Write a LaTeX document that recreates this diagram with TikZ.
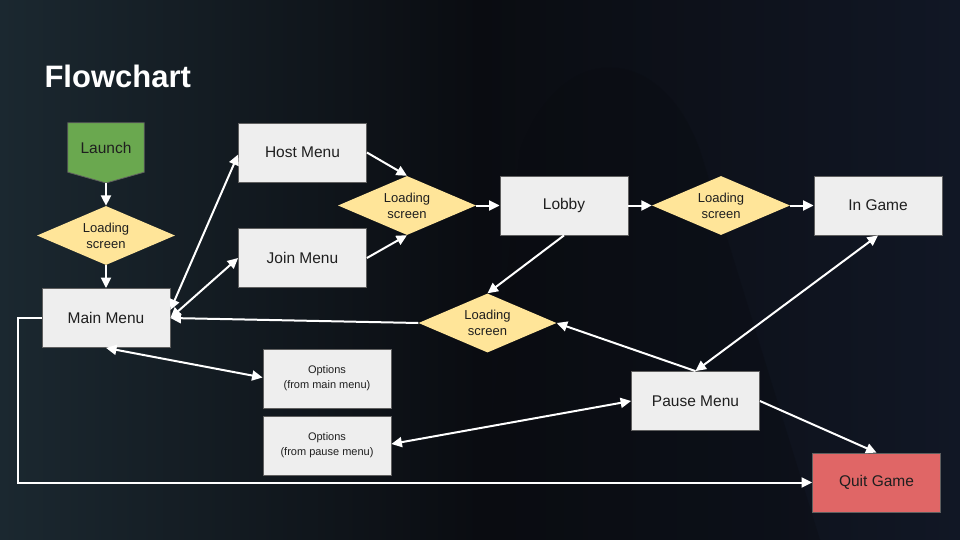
\documentclass[tikz,border=0pt]{standalone}
\usepackage{fontspec}
\setmainfont{Liberation Sans}
\usetikzlibrary{shapes.geometric,arrows.meta,calc}
\definecolor{bgL}{HTML}{1B2830}
\definecolor{bgM}{HTML}{0A0C11}
\definecolor{bgR}{HTML}{111725}
\definecolor{boxfill}{HTML}{EEEEEE}
\definecolor{boxline}{HTML}{5F5F5F}
\definecolor{diafill}{HTML}{FFE599}
\definecolor{launchfill}{HTML}{6AA84F}
\definecolor{quitfill}{HTML}{E06666}
\definecolor{txt}{HTML}{1F1F1F}
\tikzset{
  box/.style={rectangle, draw=boxline, line width=0.8pt, fill=boxfill, minimum width=128pt, minimum height=59pt, inner sep=0pt, align=center, text=txt, font=\fontsize{15.5}{18}\selectfont},
  optbox/.style={box, font=\fontsize{11}{15}\selectfont},
  dia/.style={diamond, fill=diafill, aspect=2.35, inner sep=0pt, minimum width=138pt, minimum height=59pt, align=center, text=txt, font=\fontsize{13}{16}\selectfont},
  tip/.style={Triangle[length=10.5pt,width=10pt]},
  arr/.style={draw=white, line width=2pt, -{Triangle[length=10.5pt,width=10pt]}},
  darr/.style={draw=white, line width=2pt, {Triangle[length=10.5pt,width=10pt]}-{Triangle[length=10.5pt,width=10pt]}},
}
\begin{document}
\begin{tikzpicture}[x=1pt,y=-1pt]
\useasboundingbox (0,0) rectangle (960,540);
\shade[left color=bgL, right color=bgR, middle color=bgM] (0,0) rectangle (960,540);
\fill[bgM, opacity=0.35] (480,540) -- (520,150) .. controls (560,40) and (660,40) .. (700,150) -- (820,540) -- cycle;

\node[anchor=west, text=white, font=\bfseries\fontsize{31}{36}\selectfont] (title) at (41,76) {Flowchart};

% Launch
\node[minimum width=76pt, minimum height=49pt, inner sep=0pt] (launch) at (106,147.5) {};
\coordinate (launchtip) at (106,183);
\filldraw[fill=launchfill, draw=boxline, line width=0.8pt] (launch.north west) -- (launch.north east) -- (launch.south east) -- (launchtip) -- (launch.south west) -- cycle;
\node[text=txt, font=\fontsize{15.5}{18}\selectfont] (launchtext) at (launch) {Launch};

\node[dia] (d1) at (106,235.5) {Loading\\screen};
\node[box] (main) at (106,318) {Main Menu};
\node[box] (host) at (302.5,152.5) {Host Menu};
\node[box] (join) at (302.5,258) {Join Menu};
\node[dia] (d2) at (407,205.5) {Loading\\screen};
\node[box] (lobby) at (564,205.5) {Lobby};
\node[dia] (d3) at (721,205.5) {Loading\\screen};
\node[box] (ingame) at (878,205.5) {In Game};
\node[dia] (d4) at (487.5,323) {Loading\\screen};
\node[optbox] (opt1) at (327,378.5) {Options\\(from main menu)};
\node[optbox] (opt2) at (327,445.5) {Options\\(from pause menu)};
\node[box] (pause) at (695.5,401) {Pause Menu};
\node[box, fill=quitfill] (quit) at (876.5,482.5) {Quit Game};

% connectors
\draw[arr] (launchtip) -- (d1.north);
\draw[arr] (d1.south) -- (main.north);
\draw[darr] ([yshift=8pt]main.east) -- ([yshift=-2pt]host.west);
\draw[darr] (main.east) -- (join.west);
\draw[arr] (host.east) -- (d2.north);
\draw[arr] (join.east) -- (d2.south);
\draw[arr] (d2.east) -- (lobby.west);
\draw[arr] (lobby.east) -- (d3.west);
\draw[arr] (d3.east) -- (ingame.west);
\draw[arr] (lobby.south) -- (d4.north);
\draw[arr] (d4.west) -- (main.east);
\draw[arr] (pause.north) -- (d4.east);
\draw[darr] (ingame.south) -- (pause.north);
\draw[darr] (main.south) -- ([yshift=1pt]opt1.west);
\draw[darr] (pause.west) -- ([yshift=1.5pt]opt2.east);
\draw[arr] (pause.east) -- (quit.north);
\draw[arr] (main.west) -- ++(-24,0) |- (quit.west);
\end{tikzpicture}
\end{document}
